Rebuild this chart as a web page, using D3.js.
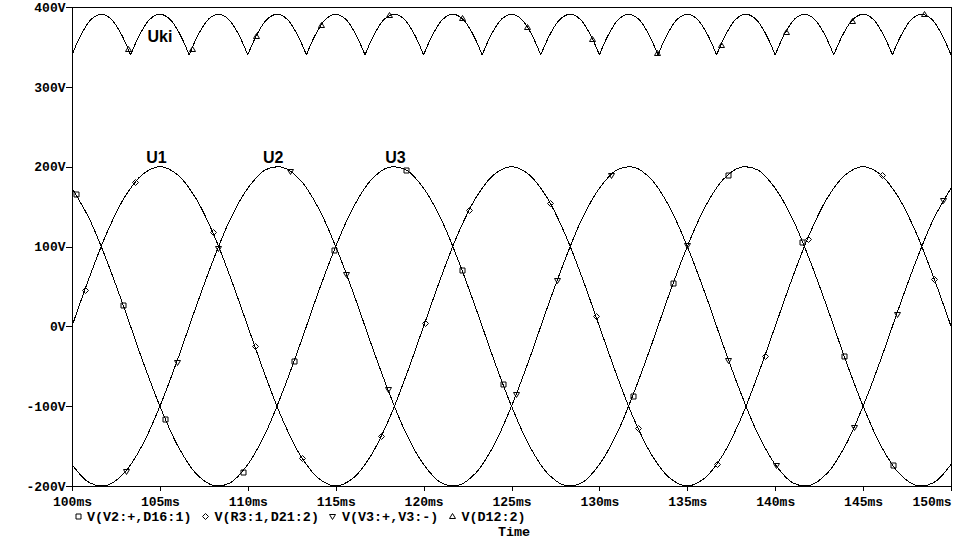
<!DOCTYPE html>
<html>
<head>
<meta charset="utf-8">
<script src="https://cdn.jsdelivr.net/npm/d3@7"></script>
<style>
  html, body { margin: 0; padding: 0; background: #fff; }
  svg { display: block; }
  .tick text, .lbl { font-family: "Liberation Mono", "DejaVu Sans Mono", monospace; font-weight: bold; font-size: 13px; fill: #000; }
  .lbl { font-size: 13.4px; }
  .ann { font-family: "Liberation Sans", Arial, sans-serif; font-weight: bold; font-size: 16px; fill: #000; }
</style>
</head>
<body>
<div id="chart"></div>
<script>
// ---------------- data ----------------
// sample times for the three phase voltages, ms (1 ms step)
const phaseTimes = d3.range(100, 151, 1);

// U1 = V(R3:1,D21:2)
const u1 = [0,62,118,162,190,200,190,162,118,62,0,-62,-118,-162,-190,-200,-190,-162,-118,-62,
            0,62,118,162,190,200,190,162,118,62,0,-62,-118,-162,-190,-200,-190,-162,-118,-62,
            0,62,118,162,190,200,190,162,118,62,0];
// U2 = V(V3:+,V3:-)
const u2 = [-173,-196,-199,-183,-149,-100,-42,21,81,134,173,196,199,183,149,100,42,-21,-81,-134,
            -173,-196,-199,-183,-149,-100,-42,21,81,134,173,196,199,183,149,100,42,-21,-81,-134,
            -173,-196,-199,-183,-149,-100,-42,21,81,134,173];
// U3 = V(V2:+,D16:1)
const u3 = [173,134,81,21,-42,-100,-149,-183,-199,-196,-173,-134,-81,-21,42,100,149,183,199,196,
            173,134,81,21,-42,-100,-149,-183,-199,-196,-173,-134,-81,-21,42,100,149,183,199,196,
            173,134,81,21,-42,-100,-149,-183,-199,-196,-173];

// Uki = V(D12:2), sampled every 5/9 ms (6 samples per pulse)
const ukiTimes = d3.range(91).map(i => 100 + i * 50 / 90);
const uki = [340,367,385,391,385,367, 340,367,385,391,385,367, 340,367,385,391,385,367,
             340,367,385,391,385,367, 340,367,385,391,385,367, 340,367,385,391,385,367,
             340,367,385,391,385,367, 340,367,385,391,385,367, 340,367,385,391,385,367,
             340,367,385,391,385,367, 340,367,385,391,385,367, 340,367,385,391,385,367,
             340,367,385,391,385,367, 340,367,385,391,385,367, 340,367,385,391,385,367,
             340];

// trace markers [time ms, value V]
const u1Marks = [[100.74,46],[103.6,181],[108.0,118],[110.4,-25],[113.1,-165],[117.6,-137],[120.06,4],
                 [122.6,146],[127.2,154],[129.8,13],[132.2,-127],[136.67,-173],[139.4,-37],[141.84,109],
                 [146.06,189],[149.05,59]];
const u2Marks = [[103.07,-181],[105.95,-45],[108.3,98],[112.4,195],[115.6,66],[117.95,-78],[125.27,-85],
                 [127.6,58],[130.66,190],[134.96,102],[137.33,-42],[140.04,-174],[144.5,-126],[146.9,15],
                 [149.56,158]];
const u3Marks = [[100.25,166],[102.9,27],[105.3,-116],[109.7,-182],[112.65,-43],[114.9,95],[119.0,196],
                 [122.2,70],[124.5,-72],[131.9,-87],[134.2,54],[137.3,190],[141.55,106],[143.9,-37],
                 [146.7,-174]];
const ukiMarks = [[103.16,348],[106.85,347],[110.48,364],[114.18,378],[118.05,390],[122.16,386],
                  [125.9,375],[129.6,360],[133.27,342],[136.9,352],[140.6,369],[144.36,383],[148.45,391]];

const xTicks = [100,105,110,115,120,125,130,135,140,145,150];
const yTicks = [-200,-100,0,100,200,300,400];

const legendLabels = ["V(V2:+,D16:1)", "V(R3:1,D21:2)", "V(V3:+,V3:-)", "V(D12:2)"];
const legendSymbols = ["square", "diamond", "tridown", "triup"];
const axisTitle = "Time";

// annotations: text, time anchor, value anchor
const annText = ["Uki", "U1", "U2", "U3"];
const annTime = [105.0, 104.8, 111.45, 118.4];
const annValue = [391, 200, 200, 200];

// ---------------- drawing ----------------
const W = 963, H = 540;
const svg = d3.select("#chart").append("svg").attr("width", W).attr("height", H);

const x = d3.scaleLinear().domain([100, 150]).range([72, 951]);
const y = d3.scaleLinear().domain([-200, 400]).range([486, 7]);

// frame (top and right)
svg.append("line").attr("x1", 72).attr("x2", 951.5).attr("y1", 7.5).attr("y2", 7.5)
  .attr("stroke", "#000").attr("shape-rendering", "crispEdges");
svg.append("line").attr("x1", 951.5).attr("x2", 951.5).attr("y1", 7).attr("y2", 487)
  .attr("stroke", "#000").attr("shape-rendering", "crispEdges");

// y axis
const gy = svg.append("g").attr("transform", "translate(72,0)")
  .call(d3.axisLeft(y).tickValues(yTicks).tickSize(6).tickSizeOuter(0).tickFormat(d => d + "V"));
gy.selectAll("path,line").attr("stroke", "#000").attr("shape-rendering", "crispEdges");
gy.selectAll("text").attr("x", -6.5).attr("dy", "0.33em").attr("font-family", null).attr("font-size", null);

// x axis
const gx = svg.append("g").attr("transform", "translate(0,486)")
  .call(d3.axisBottom(x).tickValues(xTicks).tickSize(5).tickSizeOuter(0).tickFormat(d => d + "ms"));
gx.selectAll("path,line").attr("stroke", "#000").attr("shape-rendering", "crispEdges");
gx.selectAll("text").attr("y", 20).attr("dy", 0).attr("font-family", null).attr("font-size", null);
gx.selectAll(".tick").filter(d => d === 150).select("text").attr("text-anchor", "end").attr("x", 0);

// traces
const line = d3.line().x(d => x(d[0])).y(d => y(d[1])).curve(d3.curveCatmullRom.alpha(0.5));
const traces = svg.append("g").attr("shape-rendering", "crispEdges");
[u1, u2, u3].forEach(arr => {
  const pts = phaseTimes.map((t, i) => [t, arr[i]]);
  traces.append("path").attr("d", line(pts)).attr("fill", "none")
    .attr("stroke", "#000").attr("stroke-width", 1);
});
// Uki: draw each pulse separately so the commutation points stay sharp
const ukiPts = ukiTimes.map((t, i) => [t, uki[i]]);
let ukiD = "";
for (let s = 0; s + 6 < ukiPts.length; s += 6) ukiD += line(ukiPts.slice(s, s + 7));
traces.append("path").attr("d", ukiD).attr("fill", "none").attr("stroke", "#000").attr("stroke-width", 1);

// marker symbols
function sym(type, cx, cy) {
  if (type === "square") return `M${cx-2.5},${cy-2.5}h5v5h-5Z`;
  if (type === "diamond") return `M${cx},${cy-3}L${cx+3},${cy}L${cx},${cy+3}L${cx-3},${cy}Z`;
  if (type === "tridown") return `M${cx-3},${cy-2}L${cx+3},${cy-2}L${cx},${cy+3}Z`;
  return `M${cx-3},${cy+2}L${cx+3},${cy+2}L${cx},${cy-3}Z`;
}
const markSets = [[u3Marks, "square"], [u1Marks, "diamond"], [u2Marks, "tridown"], [ukiMarks, "triup"]];
markSets.forEach(([marks, type]) => {
  svg.append("g").selectAll("path").data(marks).join("path")
    .attr("d", d => sym(type, Math.round(x(d[0])) + 0.5, Math.round(y(d[1])) + 0.5))
    .attr("fill", "none").attr("stroke", "#000").attr("stroke-width", 1);
});

// annotations
svg.append("g").selectAll("text").data(annText).join("text")
  .attr("class", "ann")
  .attr("x", (d, i) => x(annTime[i]))
  .attr("y", (d, i) => i === 0 ? y(annValue[i]) + 27.5 : y(annValue[i]) - 4)
  .attr("text-anchor", "middle")
  .text(d => d);

// legend
const lg = svg.append("g");
let lx = 77.5;
const ly = 516;
legendLabels.forEach((lab, i) => {
  lg.append("path").attr("d", sym(legendSymbols[i], Math.round(lx) + 0.5, ly + 0.5))
    .attr("fill", "none").attr("stroke", "#000");
  const t = lg.append("text").attr("class", "lbl").attr("x", lx + 9.5).attr("y", ly + 4.5).text(lab);
  const w = t.node().getComputedTextLength();
  lx = lx + 9.5 + w + 13.5;
});
svg.append("text").attr("class", "lbl").attr("x", 514).attr("y", 535.5)
  .attr("text-anchor", "middle").text(axisTitle);
</script>
</body>
</html>
